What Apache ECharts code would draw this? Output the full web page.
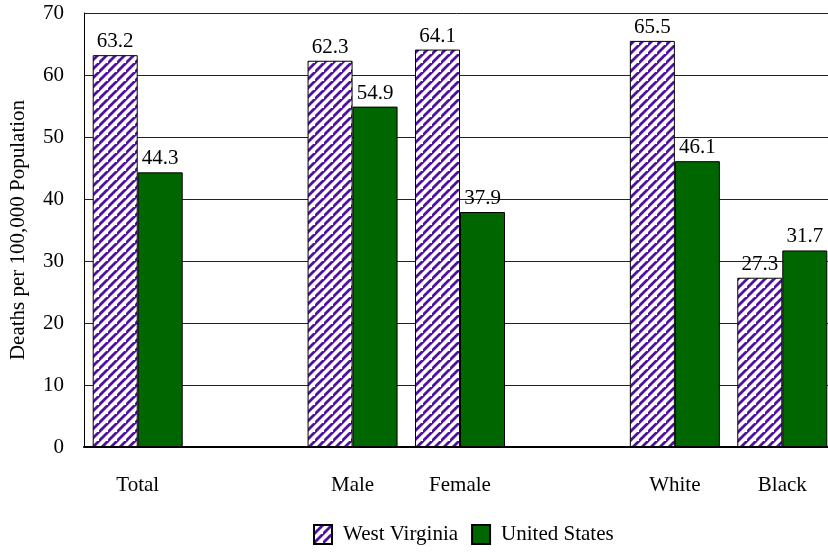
<!DOCTYPE html>
<html>
<head>
<meta charset="utf-8">
<script src="https://cdn.jsdelivr.net/npm/echarts@6/dist/echarts.min.js"></script>
<style>
  html, body { margin: 0; padding: 0; background: #fff; overflow: hidden; }
  #chart { width: 828px; height: 552px; }
</style>
</head>
<body>
<div id="chart"></div>
<script>
// Death rates per 100,000 population, West Virginia vs. United States
const categories = ['Total', '', 'Male', 'Female', '', 'White', 'Black'];
const westVirginia = [63.2, '-', 62.3, 64.1, '-', 65.5, 27.3];
const unitedStates = [44.3, '-', 54.9, 37.9, '-', 46.1, 31.7];
const yTicks = { min: 0, max: 70, interval: 10 };

// Diagonal purple hatch used for the West Virginia bars
function makeHatch() {
  const s = 9;
  const c = document.createElement('canvas');
  c.width = s; c.height = s;
  const ctx = c.getContext('2d');
  ctx.fillStyle = '#ffffff';
  ctx.fillRect(0, 0, s, s);
  ctx.strokeStyle = '#5010a0';
  ctx.lineWidth = 2.8;
  ctx.beginPath();
  ctx.moveTo(-1, s + 1); ctx.lineTo(s + 1, -1);
  ctx.moveTo(-s - 1, s + 1); ctx.lineTo(1, -1);
  ctx.moveTo(s - 1, 2 * s + 1); ctx.lineTo(2 * s + 1, s - 1);
  ctx.stroke();
  return c;
}

const font = '"Liberation Serif", "Times New Roman", serif';
const chart = echarts.init(document.getElementById('chart'), null, { renderer: 'canvas' });

chart.setOption({
  animation: false,
  textStyle: { fontFamily: font, color: '#000' },
  grid: { left: 84, top: 13, width: 752, height: 434, containLabel: false, outerBoundsMode: 'none' },
  legend: {
    left: 308, top: 519,
    icon: 'rect',
    itemWidth: 18, itemHeight: 19, itemGap: 13,
    textStyle: { fontFamily: font, fontSize: 21, color: '#000', padding: [2, 0, 0, 6] },
    data: ['West Virginia', 'United States']
  },
  xAxis: {
    type: 'category',
    data: categories,
    axisLine: { lineStyle: { color: '#000', width: 2 } },
    axisTick: { show: false },
    axisLabel: { fontFamily: font, fontSize: 21, color: '#000', margin: 28, interval: 0 }
  },
  yAxis: {
    type: 'value',
    min: yTicks.min, max: yTicks.max, interval: yTicks.interval,
    name: 'Deaths per 100,000 Population',
    nameLocation: 'middle',
    nameGap: 55,
    nameTextStyle: { fontFamily: font, fontSize: 21, color: '#000' },
    axisLine: { show: true, lineStyle: { color: '#000', width: 1 } },
    axisTick: { show: false },
    axisLabel: { fontFamily: font, fontSize: 21, color: '#000', margin: 20 },
    splitLine: { lineStyle: { color: '#222', width: 1 } }
  },
  series: [
    {
      name: 'West Virginia',
      type: 'bar',
      data: westVirginia,
      barWidth: 45,
      barGap: '0%',
      itemStyle: { color: { image: makeHatch(), repeat: 'repeat' }, borderColor: '#000', borderWidth: 1 },
      label: { show: true, position: 'top', distance: 3, fontFamily: font, fontSize: 21, color: '#000' }
    },
    {
      name: 'United States',
      type: 'bar',
      data: unitedStates,
      barWidth: 45,
      itemStyle: { color: '#006600', borderColor: '#000', borderWidth: 1 },
      label: { show: true, position: 'top', distance: 3, fontFamily: font, fontSize: 21, color: '#000' }
    }
  ]
});
</script>
</body>
</html>
